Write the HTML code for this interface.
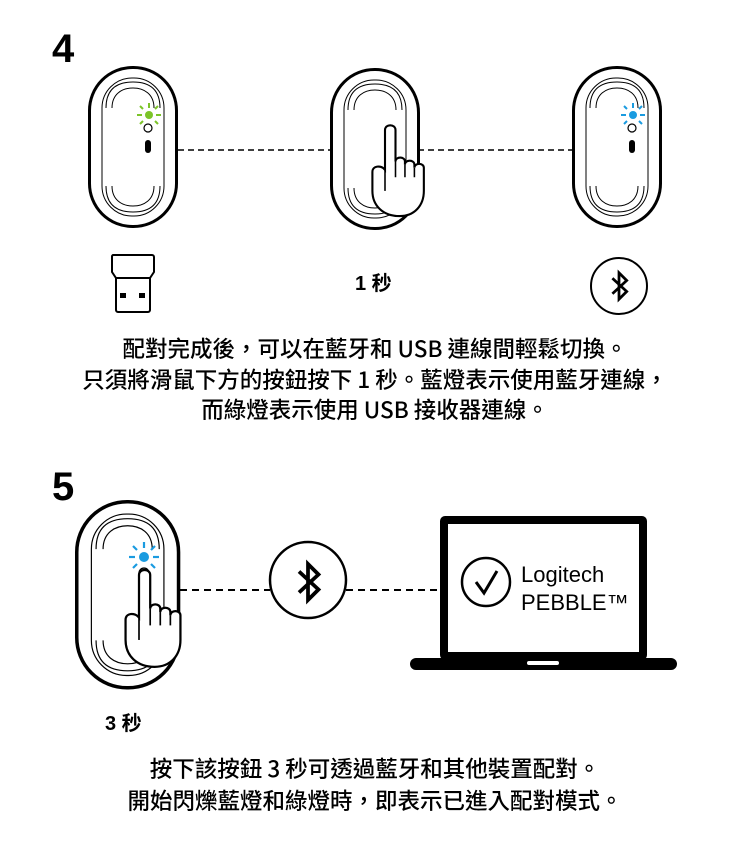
<!DOCTYPE html>
<html><head><meta charset="utf-8"><style>
body{margin:0;background:#fff;}
svg{display:block}
text{font-family:"Liberation Sans","Noto Sans CJK TC",sans-serif;fill:#000}
.cjk{font-family:"Noto Sans CJK TC","Liberation Sans",sans-serif;font-size:22.5px;font-weight:500}
</style></head><body>
<svg width="750" height="858" viewBox="0 0 750 858" xmlns="http://www.w3.org/2000/svg">
<defs>
<g id="m">
  <rect x="1.5" y="1.5" width="87" height="159" rx="43" fill="#fff" stroke="#000" stroke-width="3"/>
  <rect x="14" y="12" width="62" height="138" rx="30" fill="none" stroke="#000" stroke-width="1"/>
  <path d="M18 42 C18 22 30 16 45 16 C60 16 72 22 72 42" fill="none" stroke="#000" stroke-width="1"/>
  <path d="M24 42 C24 28 34 22 45 22 C56 22 66 28 66 42" fill="none" stroke="#000" stroke-width="1"/>
  <path d="M18 120 C18 140 30 146 45 146 C60 146 72 140 72 120" fill="none" stroke="#000" stroke-width="1"/>
  <path d="M24 120 C24 134 34 140 45 140 C56 140 66 134 66 120" fill="none" stroke="#000" stroke-width="1"/>
</g>
<g id="hand">
  <path d="M0 0 C0 -6 10 -6 10 0 L10 30 C10 25 19 25 19 30 L19 33 C19 28 28 28 28 33 L28 36 C28 31 37 31 37 36 L37 58 C37 72 28 82 14 82 C-2 82 -12 72 -12 58 L-12 40 C-12 34 -4 33 0 38 Z" fill="#fff" stroke="#000" stroke-width="2"/>
  <line x1="10" y1="30" x2="10" y2="45" stroke="#000" stroke-width="1.5"/>
  <line x1="19" y1="33" x2="19" y2="45" stroke="#000" stroke-width="1.5"/>
  <line x1="28" y1="36" x2="28" y2="45" stroke="#000" stroke-width="1.5"/>
  <line x1="0" y1="38" x2="0" y2="58" stroke="#000" stroke-width="1.5"/>
</g>
<g id="bt">
  <path d="M-6 -7 L7 5 L0 12 L0 -12 L7 -5 L-6 7" fill="none" stroke="#000" stroke-width="2.5" stroke-linejoin="miter"/>
</g>
</defs>

<text x="52" y="62" font-size="40" font-weight="bold">4</text>

<line x1="178" y1="150" x2="330" y2="150" stroke="#000" stroke-width="1.5" stroke-dasharray="6,4"/>
<line x1="418" y1="150" x2="572" y2="150" stroke="#000" stroke-width="1.5" stroke-dasharray="6,4"/>

<use href="#m" x="88" y="66"/>
<g stroke="#7cc42a" stroke-width="2">
<circle cx="149" cy="115" r="4" fill="#7cc42a" stroke="none"/>
<line x1="137" y1="115" x2="142" y2="115"/><line x1="156" y1="115" x2="161" y2="115"/>
<line x1="149" y1="103" x2="149" y2="108"/><line x1="140" y1="106" x2="143" y2="109"/><line x1="155" y1="109" x2="158" y2="106"/>
<line x1="140" y1="124" x2="143" y2="121"/><line x1="155" y1="121" x2="158" y2="124"/>
</g>
<circle cx="148" cy="128" r="4" fill="#fff" stroke="#000" stroke-width="1.2"/>
<rect x="145" y="140" width="6" height="13" rx="3" fill="#000"/>

<use href="#m" x="330" y="68"/>
<circle cx="389" cy="131" r="4" fill="#fff" stroke="#000" stroke-width="1.2"/>
<g transform="translate(385,130) scale(1.05)"><use href="#hand"/></g>

<use href="#m" x="572" y="66"/>
<g stroke="#1a9be0" stroke-width="2">
<circle cx="633" cy="115" r="4" fill="#1a9be0" stroke="none"/>
<line x1="621" y1="115" x2="626" y2="115"/><line x1="640" y1="115" x2="645" y2="115"/>
<line x1="633" y1="103" x2="633" y2="108"/><line x1="624" y1="106" x2="627" y2="109"/><line x1="639" y1="109" x2="642" y2="106"/>
<line x1="624" y1="124" x2="627" y2="121"/><line x1="639" y1="121" x2="642" y2="124"/>
</g>
<circle cx="632" cy="128" r="4" fill="#fff" stroke="#000" stroke-width="1.2"/>
<rect x="629" y="140" width="6" height="13" rx="3" fill="#000"/>

<path d="M113 255 H152 a2 2 0 0 1 2 2 V272 L150 278 H116 L112 272 V257 a2 2 0 0 1 1 -2 Z" fill="#fff" stroke="#000" stroke-width="2"/>
<path d="M116 278 V310 a2 2 0 0 0 2 2 H148 a2 2 0 0 0 2 -2 V278" fill="none" stroke="#000" stroke-width="2"/>
<rect x="120" y="293" width="6" height="5" fill="#000"/><rect x="139" y="293" width="6" height="5" fill="#000"/>

<text x="355" y="290" font-size="20" font-weight="bold">1 秒</text>

<circle cx="619" cy="286" r="28" fill="none" stroke="#000" stroke-width="2"/>
<g transform="translate(619,286) scale(1.1)"><use href="#bt"/></g>

<text class="cjk" x="375" y="357" text-anchor="middle">配對完成後，可以在藍牙和 USB 連線間輕鬆切換。</text>
<text class="cjk" x="375" y="388" text-anchor="middle">只須將滑鼠下方的按鈕按下 1 秒。藍燈表示使用藍牙連線，</text>
<text class="cjk" x="375" y="418" text-anchor="middle">而綠燈表示使用 USB 接收器連線。</text>

<text x="52" y="500" font-size="40" font-weight="bold">5</text>

<line x1="180" y1="590" x2="270" y2="590" stroke="#000" stroke-width="2" stroke-dasharray="7,5"/>
<line x1="346" y1="590" x2="440" y2="590" stroke="#000" stroke-width="2" stroke-dasharray="7,5"/>

<g transform="translate(75,500) scale(1.17)"><use href="#m"/></g>
<g stroke="#1a9be0" stroke-width="2.2">
<circle cx="144" cy="557" r="5" fill="#1a9be0" stroke="none"/>
<line x1="129" y1="557" x2="135" y2="557"/><line x1="153" y1="557" x2="159" y2="557"/>
<line x1="144" y1="542" x2="144" y2="548"/><line x1="133" y1="546" x2="137" y2="550"/><line x1="151" y1="550" x2="155" y2="546"/>
<line x1="133" y1="568" x2="137" y2="564"/><line x1="151" y1="564" x2="155" y2="568"/>
</g>
<circle cx="144" cy="573" r="5" fill="#999" stroke="#000" stroke-width="1.2"/>
<g transform="translate(139,575) scale(1.12)"><use href="#hand"/></g>

<circle cx="308" cy="580" r="38" fill="#fff" stroke="#000" stroke-width="2.5"/>
<g transform="translate(308,582) scale(1.5)"><use href="#bt"/></g>

<rect x="444" y="520" width="199" height="136" fill="#fff" stroke="#000" stroke-width="8" rx="1"/>
<rect x="410" y="658" width="267" height="12" rx="6" fill="#000"/>
<rect x="527" y="661" width="32" height="4" rx="2" fill="#fff"/>
<circle cx="486" cy="582" r="24" fill="none" stroke="#000" stroke-width="2.5"/>
<path d="M476 582 L484 593 L497 571" fill="none" stroke="#000" stroke-width="3"/>
<text x="521" y="582" font-size="22">Logitech</text>
<text x="521" y="610" font-size="22">PEBBLE™</text>

<text x="105" y="730" font-size="20" font-weight="bold">3 秒</text>

<text class="cjk" x="375" y="777" text-anchor="middle">按下該按鈕 3 秒可透過藍牙和其他裝置配對。</text>
<text class="cjk" x="375" y="809" text-anchor="middle">開始閃爍藍燈和綠燈時，即表示已進入配對模式。</text>
</svg>
</body></html>
